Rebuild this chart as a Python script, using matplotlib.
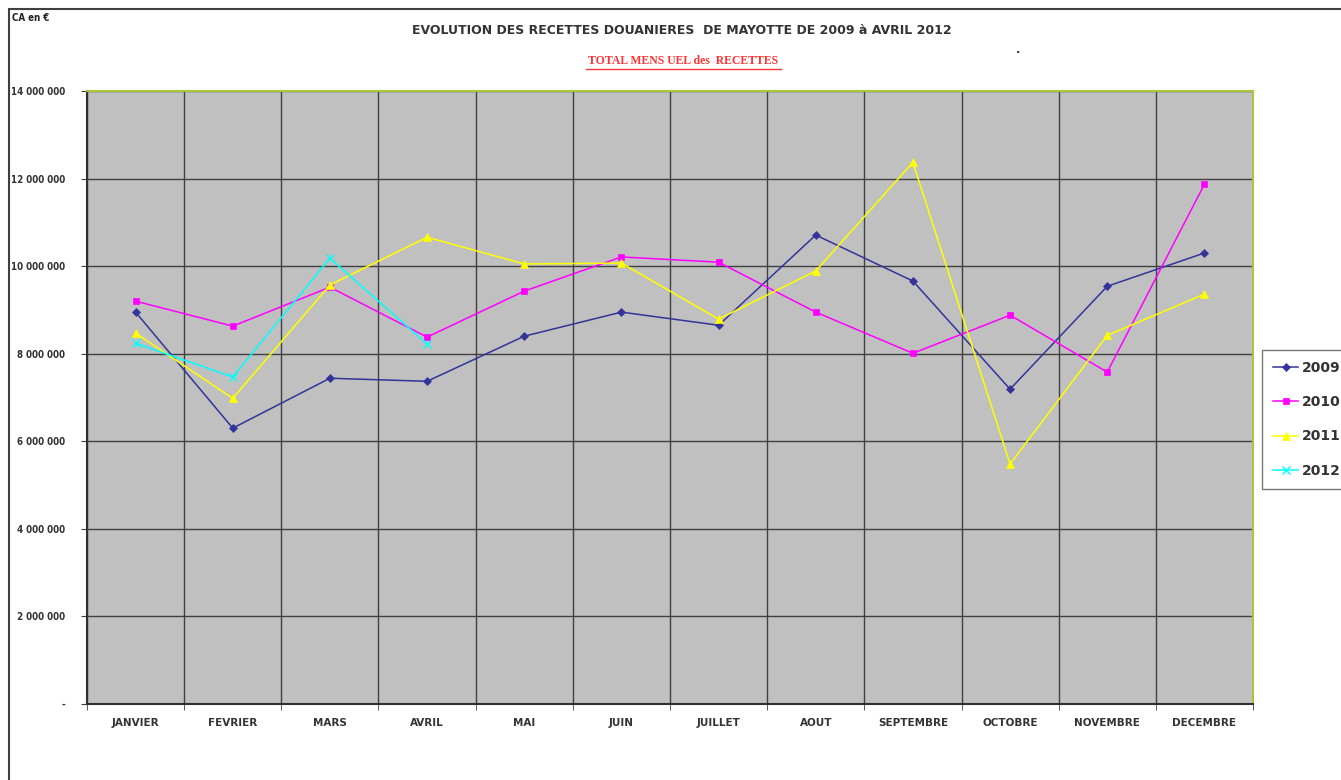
# Evolution des recettes douanieres de Mayotte (2009 - avril 2012)
# Graphique en courbes style Excel : fond gris, grille sombre, legende a droite

import matplotlib
matplotlib.use("Agg")
import matplotlib.pyplot as plt
from matplotlib.lines import Line2D
from matplotlib.patches import Rectangle
from matplotlib.ticker import FuncFormatter

# ===== donnees (en millions d'euros) =====
mois = ["JANVIER", "FEVRIER", "MARS", "AVRIL", "MAI", "JUIN", "JUILLET",
        "AOUT", "SEPTEMBRE", "OCTOBRE", "NOVEMBRE", "DECEMBRE"]

recettes_2009 = [8.95, 6.30, 7.44, 7.37, 8.40, 8.95, 8.65, 10.71, 9.66, 7.19, 9.54, 10.30]
recettes_2010 = [9.20, 8.63, 9.52, 8.38, 9.43, 10.21, 10.09, 8.95, 8.01, 8.88, 7.58, 11.87]
recettes_2011 = [8.47, 6.98, 9.57, 10.66, 10.05, 10.07, 8.79, 9.89, 12.37, 5.48, 8.42, 9.36]
recettes_2012 = [8.24, 7.47, 10.18, 8.22]

annees = ["2009", "2010", "2011", "2012"]
graduations = [0, 2, 4, 6, 8, 10, 12, 14]

# styles des series (couleurs Excel)
couleurs = ["#333399", "#FF00FF", "#FFFF00", "#00FFFF"]
marqueurs = ["D", "s", "^", "x"]
tailles = [4, 5, 6, 6]

fig = plt.figure(figsize=(13.41, 7.80), dpi=100)
fig.patch.set_facecolor("white")

# cadre exterieur du graphique (coupe a droite et en bas)
fig.add_artist(Rectangle((9 / 1341, -0.1), 1.2, 1 - 9 / 780 + 0.1,
                         transform=fig.transFigure, fill=False,
                         edgecolor="#404040", linewidth=1.5))

ax = fig.add_axes([87 / 1341, 76 / 780, 1166 / 1341, 613 / 780])
ax.set_facecolor("#C0C0C0")

x = list(range(len(mois)))
series = [recettes_2009, recettes_2010, recettes_2011, recettes_2012]
for i, valeurs in enumerate(series):
    ax.plot(x[:len(valeurs)], [v * 1e6 for v in valeurs], color=couleurs[i],
            marker=marqueurs[i], markersize=tailles[i], linewidth=1.1,
            markeredgewidth=1.0 if marqueurs[i] == "x" else 0.5,
            label=annees[i], zorder=3)

# axes et grilles
ax.set_xlim(-0.5, len(mois) - 0.5)
ax.set_ylim(0, 14e6)
ax.set_yticks([g * 1e6 for g in graduations])


def format_ca(v, pos):
    if v == 0:
        return "-"
    return f"{int(round(v)):,}".replace(",", " ")


ax.yaxis.set_major_formatter(FuncFormatter(format_ca))
ax.set_xticks(x)
ax.set_xticklabels(mois)
ax.set_xticks([k - 0.5 for k in range(len(mois) + 1)], minor=True)
ax.tick_params(axis="x", which="major", length=0, pad=10)
ax.tick_params(axis="x", which="minor", length=4, direction="out", color="#404040")
ax.tick_params(axis="y", length=4, direction="out", pad=12, color="#404040")
for lab in ax.get_xticklabels():
    lab.set_fontsize(7.5)
    lab.set_fontweight("bold")
    lab.set_color("#333333")
for lab in ax.get_yticklabels():
    lab.set_fontsize(7)
    lab.set_fontweight("bold")
    lab.set_fontstretch("condensed")
    lab.set_color("#333333")

ax.grid(axis="y", which="major", color="#404040", linewidth=1.0)
ax.grid(axis="x", which="minor", color="#404040", linewidth=1.0)
ax.set_axisbelow(True)

for cote in ["left", "bottom"]:
    ax.spines[cote].set_color("#303030")
    ax.spines[cote].set_linewidth(1.5)
for cote in ["top", "right"]:
    ax.spines[cote].set_color("#A8C83C")
    ax.spines[cote].set_linewidth(1.5)

# titres
fig.text(682 / 1341, 1 - 30 / 780, "EVOLUTION DES RECETTES DOUANIERES  DE MAYOTTE DE 2009 à AVRIL 2012",
         ha="center", va="center", fontsize=9, fontweight="bold", color="#333333")
fig.text(683 / 1341, 1 - 61 / 780, "TOTAL MENS UEL des  RECETTES",
         ha="center", va="center", fontsize=8.5, fontweight="bold", color="#FF3333",
         family="Liberation Serif")
fig.add_artist(Line2D([586 / 1341, 781 / 1341], [1 - 68.5 / 780, 1 - 68.5 / 780],
                      transform=fig.transFigure, color="#FF3333", linewidth=1))
fig.text(12 / 1341, 1 - 18 / 780, "CA en €", ha="left", va="center",
         fontsize=7, fontweight="bold", fontstretch="condensed", color="#222222")
fig.text(1018 / 1341, 1 - 50 / 780, ".", ha="center", va="center", fontsize=8,
         fontweight="bold", color="#333333")

# legende a droite (le cadre deborde du bord, comme sur l'original)
leg = fig.legend(loc="upper left", bbox_to_anchor=(1262 / 1341, 1 - 350 / 780),
                 frameon=True, fancybox=False, handlelength=1.8, handletextpad=0.3,
                 labelspacing=1.45, borderpad=0.8, borderaxespad=0,
                 prop={"size": 10, "weight": "bold"})
leg.get_frame().set_edgecolor("#555555")
leg.get_frame().set_linewidth(1.0)
for t in leg.get_texts():
    t.set_color("#333333")

fig.savefig("out.png", dpi=100, facecolor="white")
